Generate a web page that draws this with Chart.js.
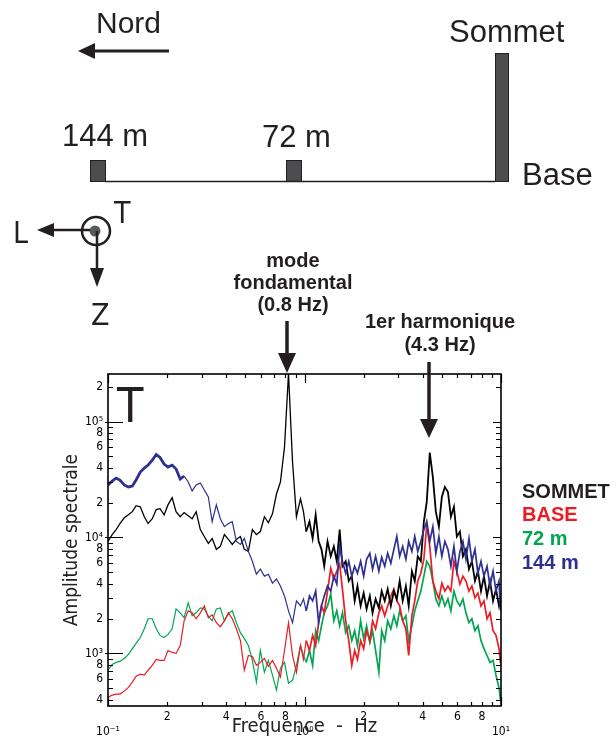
<!DOCTYPE html>
<html lang="fr">
<head>
<meta charset="utf-8">
<title>Amplitude spectrale - composante T</title>
<script src="https://cdn.jsdelivr.net/npm/chart.js@4.4.1/dist/chart.umd.min.js"></script>
<style>
  html, body { margin: 0; padding: 0; background: #fff; }
  #wrap { position: relative; width: 616px; height: 747px; overflow: hidden; }
  #chart { position: absolute; left: 0; top: 0; }
  #overlay { position: absolute; left: 0; top: 0; pointer-events: none; }
  .sans { font-family: "Liberation Sans", Arial, Helvetica, sans-serif; }
  .narrow { font-family: "Liberation Sans Narrow", "DejaVu Sans Condensed", Arial, sans-serif; }
</style>
</head>
<body>
<div id="wrap">
<canvas id="chart" width="616" height="747"></canvas>
<svg id="overlay" width="616" height="747" fill="#231f20">
  <!-- plan du site -->
  <text class="sans" x="96" y="33" font-size="30">Nord</text>
  <line x1="169" y1="51" x2="90" y2="51" stroke="#231f20" stroke-width="3"/>
  <polygon points="78,51 95,43 95,59"/>
  <text class="sans" x="449" y="42" font-size="31">Sommet</text>
  <rect x="495.5" y="53.5" width="13" height="128" fill="#4d4d4f" stroke="#231f20" stroke-width="1"/>
  <text class="sans" x="62" y="146" font-size="31">144 m</text>
  <text class="sans" x="262" y="147" font-size="31">72 m</text>
  <rect x="90.5" y="160.5" width="15" height="21" fill="#4d4d4f" stroke="#231f20" stroke-width="1"/>
  <rect x="286.5" y="160.5" width="15" height="21" fill="#4d4d4f" stroke="#231f20" stroke-width="1"/>
  <line x1="105" y1="181.5" x2="495" y2="181.5" stroke="#231f20" stroke-width="1.5"/>
  <text class="sans" x="522" y="185" font-size="31">Base</text>

  <!-- repere L T Z -->
  <circle cx="96" cy="231" r="14" fill="none" stroke="#231f20" stroke-width="2.5"/>
  <circle cx="95" cy="231" r="5.5" fill="#58595b"/>
  <line x1="90" y1="230" x2="50" y2="230" stroke="#231f20" stroke-width="2.5"/>
  <polygon points="37,230 54,223 54,237"/>
  <line x1="97" y1="231" x2="97" y2="270" stroke="#231f20" stroke-width="2.5"/>
  <polygon points="97,287 90,268 104,268"/>
  <text class="narrow" x="13" y="243" font-size="30">L</text>
  <text class="narrow" x="114" y="223" font-size="30">T</text>
  <text class="narrow" x="91" y="325" font-size="30">Z</text>

  <!-- annotations des pics -->
  <g class="sans" font-size="20" font-weight="bold" text-anchor="middle">
    <text x="293" y="267">mode</text>
    <text x="293" y="289">fondamental</text>
    <text x="293" y="311">(0.8 Hz)</text>
    <text x="440" y="328">1er harmonique</text>
    <text x="440" y="351">(4.3 Hz)</text>
  </g>
  <line x1="287" y1="321" x2="287" y2="355" stroke="#231f20" stroke-width="3.5"/>
  <polygon points="287,373 278,353 296,353"/>
  <line x1="429" y1="362" x2="429" y2="421" stroke="#231f20" stroke-width="3.5"/>
  <polygon points="429,438 420,419 438,419"/>

  <text class="narrow" x="117" y="422" font-size="48">T</text>

  <!-- legende -->
  <g class="sans" font-size="20" font-weight="bold">
    <text x="522" y="498" fill="#231f20">SOMMET</text>
    <text x="522" y="521" fill="#ed1c24">BASE</text>
    <text x="522" y="545" fill="#00a651">72 m</text>
    <text x="522" y="569" fill="#2e3192">144 m</text>
  </g>
</svg>
</div>
<script>
// frequences (Hz), grille commune aux quatre spectres
var frequencies = [
  0.1, 0.105, 0.11, 0.115, 0.121, 0.127, 0.133, 0.139, 0.146, 0.153,
  0.16, 0.168, 0.176, 0.184, 0.193, 0.202, 0.212, 0.222, 0.233, 0.244,
  0.256, 0.268, 0.281, 0.295, 0.309, 0.324, 0.339, 0.356, 0.373, 0.391,
  0.41, 0.429, 0.45, 0.472, 0.494, 0.518, 0.543, 0.569, 0.596, 0.625,
  0.655, 0.687, 0.72, 0.754, 0.791, 0.829, 0.869, 0.91, 0.954,
  0.988, 1.02, 1.06, 1.10, 1.14, 1.18, 1.22, 1.26, 1.31, 1.36,
  1.41, 1.46, 1.51, 1.56, 1.62, 1.68, 1.74, 1.80, 1.86, 1.93,
  2.00, 2.07, 2.15, 2.22, 2.30, 2.39, 2.47, 2.56, 2.65, 2.75,
  2.85, 2.95, 3.05, 3.16, 3.28, 3.39, 3.52, 3.64, 3.77, 3.91,
  4.05, 4.19, 4.34, 4.50, 4.66, 4.83, 5.00, 5.18, 5.37, 5.56,
  5.76, 5.96, 6.18, 6.40, 6.63, 6.87, 7.11, 7.37, 7.63, 7.91,
  8.19, 8.49, 8.79, 9.11, 9.43, 9.77, 9.95
];

var sommetAmp = [
  9250, 10600, 11700, 13200, 14800, 15700, 16700, 18800, 18400, 15100,
  13200, 14500, 17400, 17700, 15700, 19100, 22000, 16700, 15100, 16400,
  15400, 14500, 16700, 11700, 10200, 8890, 9800, 7900, 8380, 10600,
  9620, 8720, 9620, 10200, 7900, 7590, 11700, 10600, 11250, 15100,
  13400, 16000, 23700, 30100, 60000, 260000, 45000, 15100, 21500,
  16700, 11250, 13700, 9800, 15700, 9250, 7900, 5650, 9250, 6880,
  8380, 6240, 11700, 5650, 6240, 4210, 4640, 2840, 3810, 2570,
  3310, 2420, 3130, 2240, 2950, 2470, 3450, 2840, 3590, 2570,
  3450, 2950, 4210, 2840, 3810, 2570, 5120, 4210, 6880, 6240,
  13700, 20300, 54000, 33200, 16700, 12400, 22400, 27300, 24700, 15100,
  18400, 10200, 11250, 6880, 7900, 5330, 6240, 4210, 5120, 3450,
  4640, 3130, 4210, 2840, 3590, 2570, 2950
];

var baseAmp = [
  420, 437, 446, 446, 473, 510, 565, 636, 662, 649,
  716, 790, 887, 870, 870, 1060, 1020, 1000, 1170, 1910,
  2330, 2240, 1990, 2240, 2570, 2030, 2150, 1840, 1700, 1910,
  2240, 1990, 1630, 1290, 716, 960, 941, 790, 837, 905,
  774, 870, 745, 624, 1060, 1840, 960, 688, 1170,
  887, 1290, 1060, 1430, 1170, 1840, 2570, 2240, 3450, 5420,
  4380, 5120, 5870, 3590, 1910, 1290, 790, 1060, 887, 1290,
  1100, 1570, 1290, 1910, 1630, 2240, 2570, 2110, 2570, 3130,
  3590, 2840, 2570, 1910, 1630, 960, 2110, 2840, 4210, 4920,
  6490, 12900, 8380, 4210, 3450, 2950, 4040, 3450, 3810, 3450,
  6240, 5120, 3960, 4640, 4210, 3450, 3810, 3010, 3310, 2570,
  2840, 1990, 2240, 1570, 1430, 1100, 820
];

var m72Amp = [
  716, 805, 837, 853, 905, 980, 1100, 1220, 1370, 1630,
  1990, 1990, 1630, 1430, 1370, 1460, 1630, 2420, 2240, 2030,
  2730, 2110, 2240, 2470, 2420, 2110, 1910, 2420, 2470, 1910,
  2200, 2330, 1840, 1510, 1340, 1170, 870, 565, 1060, 688,
  870, 649, 483, 745, 837, 554, 588, 790, 1170,
  960, 837, 1060, 790, 1570, 1290, 1730, 2240, 2570, 3250,
  1910, 2330, 1730, 2240, 1510, 1730, 1290, 1570, 1170, 1910,
  1340, 1730, 1240, 1570, 1060, 688, 1570, 1290, 1910, 1630,
  2110, 1730, 2330, 1910, 2110, 1290, 1730, 2330, 2840, 3450,
  4640, 6240, 5650, 4210, 2950, 2570, 3130, 2570, 2950, 2330,
  3450, 2840, 2570, 2950, 2240, 1840, 1990, 1570, 1730, 1290,
  1100, 960, 837, 870, 649, 505, 396
];

var m144Amp = [
  28400, 30700, 32500, 31300, 28400, 27300, 27800, 31300, 36600, 39700,
  42100, 46500, 51900, 49000, 43000, 40500, 42100, 38900, 31900, 33900,
  30100, 25200, 28400, 29500, 25700, 22400, 13700, 19100, 14500, 12400,
  13200, 13700, 9250, 8720, 9800, 7590, 6240, 4820, 5330, 4640,
  4820, 4040, 4380, 3810, 3130, 2330, 1840, 2840, 2570,
  2950, 2330, 3130, 2840, 3450, 1840, 2570, 3130, 3810, 3450,
  4640, 3960, 8380, 6240, 4920, 6240, 4640, 5650, 4920, 6240,
  4640, 6490, 7300, 5330, 6880, 5120, 6740, 5650, 7300, 6000,
  7900, 10200, 6880, 8380, 6490, 9250, 7590, 10200, 7590, 9250,
  11700, 13700, 9250, 12400, 7300, 10200, 6880, 9250, 7900, 5650,
  8380, 5120, 7590, 9250, 6490, 9800, 6240, 7900, 4920, 6240,
  4640, 5650, 3810, 5120, 3450, 4210, 2330
];

// graduations des axes
var freqTicks = [0.1, 0.2, 0.3, 0.4, 0.5, 0.6, 0.7, 0.8, 0.9,
  1, 2, 3, 4, 5, 6, 7, 8, 9, 10];
var ampTicks = [400, 500, 600, 700, 800, 900,
  1000, 2000, 3000, 4000, 5000, 6000, 7000, 8000, 9000,
  10000, 20000, 30000, 40000, 50000, 60000, 70000, 80000, 90000,
  100000, 200000];

var narrowFont = "'Liberation Sans Narrow', 'DejaVu Sans Condensed', Arial, sans-serif";
var SUP = { '-': '\u207b', '0': '\u2070', '1': '\u00b9', '2': '\u00b2', '3': '\u00b3',
  '4': '\u2074', '5': '\u2075' };

function decadeOf(v) { return Math.floor(Math.log10(v) + 1e-9); }
function isDecade(v) { return Math.round(v / Math.pow(10, decadeOf(v))) === 1; }
function powerLabel(v) {
  return '10' + String(decadeOf(v)).split('').map(function (c) { return SUP[c]; }).join('');
}
function mantissaLabel(v) {
  var m = Math.round(v / Math.pow(10, decadeOf(v)));
  return m % 2 === 0 ? String(m) : '';
}

function points(values) {
  return values.map(function (v, i) { return { x: frequencies[i], y: v }; });
}

// au-dela de 1 Hz le spectre est tres bruite : trait un peu plus epais
function noisyWidth(thin, thick) {
  return function (c) { return c.p0.parsed.x >= 1 ? thick : thin; };
}

// petites graduations vers l'interieur sur les quatre cotes + cadre
var frameTicks = {
  id: 'frameTicks',
  afterDraw: function (chart) {
    var ctx = chart.ctx, a = chart.chartArea;
    var xs = chart.scales.x, ys = chart.scales.y;
    ctx.save();
    ctx.strokeStyle = '#000';
    ctx.lineWidth = 1.2;
    ctx.beginPath();
    xs.ticks.forEach(function (t) {
      var p = Math.round(xs.getPixelForValue(t.value)) + 0.5;
      var len = isDecade(t.value) ? 9 : 4;
      ctx.moveTo(p, a.bottom); ctx.lineTo(p, a.bottom - len);
      ctx.moveTo(p, a.top); ctx.lineTo(p, a.top + len);
    });
    ys.ticks.forEach(function (t) {
      var p = Math.round(ys.getPixelForValue(t.value)) + 0.5;
      var big = isDecade(t.value);
      ctx.moveTo(a.left - (big ? 3 : 0), p); ctx.lineTo(a.left + (big ? 15 : 5), p);
      ctx.moveTo(a.right, p); ctx.lineTo(a.right - (big ? 8 : 5), p);
    });
    ctx.stroke();
    ctx.lineWidth = 1.6;
    ctx.strokeRect(a.left, a.top, a.right - a.left, a.bottom - a.top);
    ctx.restore();
  }
};

var chart = new Chart(document.getElementById('chart'), {
  type: 'line',
  data: {
    datasets: [
      {
        label: '144 m', data: points(m144Amp), borderColor: '#2e3192', borderWidth: 1.2,
        segment: { borderWidth: function (c) {
          var x = c.p0.parsed.x;
          return x < 0.235 ? 2.8 : (x >= 1 ? 1.7 : 1.2);
        } }
      },
      { label: 'SOMMET', data: points(sommetAmp), borderColor: '#000000', borderWidth: 1.3,
        segment: { borderWidth: noisyWidth(1.3, 1.8) } },
      { label: 'BASE', data: points(baseAmp), borderColor: '#ed1c24', borderWidth: 1.2,
        segment: { borderWidth: noisyWidth(1.2, 1.7) } },
      { label: '72 m', data: points(m72Amp), borderColor: '#00a651', borderWidth: 1.2,
        segment: { borderWidth: noisyWidth(1.2, 1.7) } }
    ]
  },
  options: {
    responsive: false,
    animation: false,
    devicePixelRatio: 1,
    layout: { padding: { left: 50, right: 115, top: 374, bottom: 0 } },
    elements: { point: { radius: 0 }, line: { tension: 0, fill: false } },
    plugins: { legend: { display: false }, tooltip: { enabled: false } },
    scales: {
      x: {
        type: 'logarithmic', min: 0.1, max: 10,
        grid: { display: false, drawTicks: false },
        border: { display: false },
        afterBuildTicks: function (scale) {
          scale.ticks = freqTicks.map(function (v) { return { value: v }; });
        },
        afterFit: function (scale) { scale.height = 41; },
        ticks: {
          autoSkip: false, maxRotation: 0, padding: 4, color: '#000',
          font: { family: narrowFont, size: 12 },
          callback: function (v) { return isDecade(v) ? ['', powerLabel(v)] : mantissaLabel(v); }
        },
        title: {
          display: true, text: 'Frequence  -  Hz', color: '#222',
          font: { family: narrowFont, size: 20 }, padding: { top: 0, bottom: 8 }
        }
      },
      y: {
        type: 'logarithmic', min: 352, max: 257000,
        grid: { display: false, drawTicks: false },
        border: { display: false },
        afterBuildTicks: function (scale) {
          scale.ticks = ampTicks.map(function (v) { return { value: v }; });
        },
        afterFit: function (scale) { scale.width = 58; },
        ticks: {
          autoSkip: false, padding: 5, color: '#000',
          font: { family: narrowFont, size: 12 },
          callback: function (v) { return isDecade(v) ? powerLabel(v) : mantissaLabel(v); }
        },
        title: {
          display: true, text: 'Amplitude spectrale', color: '#222',
          font: { family: narrowFont, size: 19 }, padding: { top: 11, bottom: 0 }
        }
      }
    }
  },
  plugins: [frameTicks]
});
</script>
</body>
</html>
